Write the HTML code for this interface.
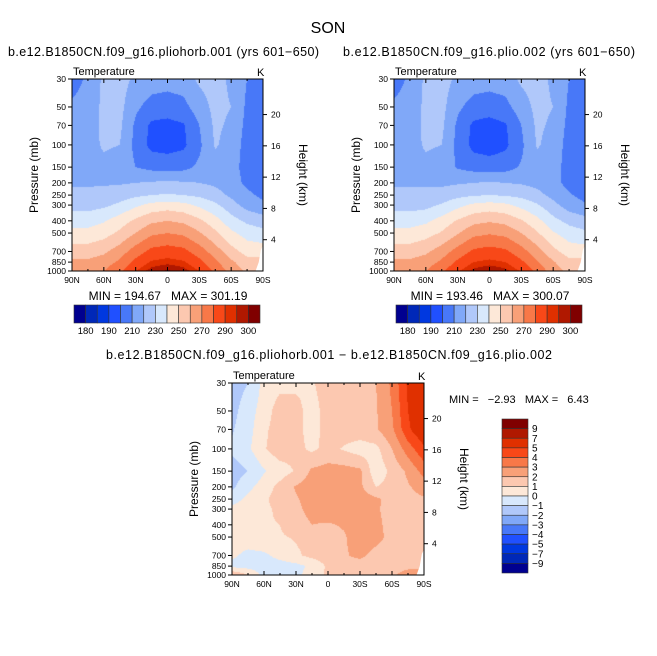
<!DOCTYPE html>
<html><head><meta charset="utf-8">
<style>
body{margin:0;background:#fff;width:657px;height:656px;overflow:hidden;position:relative;font-family:"Liberation Sans",sans-serif;}
canvas{position:absolute;left:0;top:0;}
svg{position:absolute;left:0;top:0;}
text{font-family:"Liberation Sans",sans-serif;fill:#000;}
</style></head><body>
<canvas id="cv" width="657" height="656"></canvas>
<svg id="sv" width="657" height="656">
<text x="328" y="33" font-size="16" text-anchor="middle">SON</text>
<text x="8" y="56" font-size="12.5" textLength="311">b.e12.B1850CN.f09_g16.pliohorb.001 (yrs 601−650)</text>
<text x="343" y="56" font-size="12.5" textLength="292">b.e12.B1850CN.f09_g16.plio.002 (yrs 601−650)</text>
<text x="106" y="359" font-size="12.5" textLength="446">b.e12.B1850CN.f09_g16.pliohorb.001 − b.e12.B1850CN.f09_g16.plio.002</text>
<text x="168" y="300" font-size="12" text-anchor="middle" xml:space="preserve">MIN = 194.67   MAX = 301.19</text>
<text x="490" y="300" font-size="12" text-anchor="middle" xml:space="preserve">MIN = 193.46   MAX = 300.07</text>
<text x="449" y="403" font-size="11" xml:space="preserve">MIN =   −2.93   MAX =   6.43</text>
</svg>
<script>
const pLevels=[30,50,70,100,150,200,250,300,400,500,700,850,1000];
const lats=[90,75,60,45,30,15,0,-15,-30,-45,-60,-75,-90];
const tLevels=[180,185,190,200,210,220,230,240,250,260,270,280,290,295,300];
const tLabels=["180","190","210","230","250","270","290","300"];
const dLevels=[-9,-7,-5,-4,-3,-2,-1,0,1,2,3,4,5,7,9];
const dLabels=["-9","-7","-5","-4","-3","-2","-1","0","1","2","3","4","5","7","9"];
const colors=["#000090","#0028b8","#0038e0","#2050ff","#4878f8","#80a8f8","#b0c8fa","#d8e8fc","#fde8d8","#fcc8b0","#f8a078","#f87848","#f84818","#e03000","#b01800","#800000"];
const tempA=[
[205,212,222,224,218,215,214,215,222,224,218,210,206],
[212,215,222,223,212,206,205,207,215,223,220,208,204],
[215,216,222,222,208,198,197,199,210,222,218,207,203],
[216,217,221,220,207,197,196,198,208,221,216,206,203],
[217,217,218,216,210,207,206,207,212,216,214,206,204],
[219,219,219,219,220,221,222,221,220,218,214,208,205],
[222,222,223,225,228,230,231,230,228,224,218,212,208],
[226,226,228,232,238,243,245,243,238,232,224,216,212],
[236,236,239,245,252,258,260,258,252,244,234,228,225],
[243,243,246,252,260,268,270,268,261,252,242,236,233],
[255,255,258,265,275,283,285,283,275,265,254,246,null],
[262,262,265,272,283,291,293,291,283,272,262,254,null],
[265,266,270,278,290,298,301,298,290,278,266,258,null]];
const tempB=[
[205,212,222,224,218,215,214,215,222,224,218,210,206],
[212,215,222,223,212,206,205,207,215,223,220,208,204],
[215,216,222,222,208,198,196,199,210,222,218,207,203],
[216,217,221,220,207,197,195,198,208,221,216,206,203],
[217,217,218,216,209,206,205,206,211,216,214,206,204],
[219,219,219,218,219,220,221,220,219,217,213,207,204],
[222,222,222,224,227,229,230,229,227,223,217,211,207],
[226,226,227,231,237,242,244,242,237,231,223,215,211],
[236,236,238,244,251,257,259,257,251,243,233,227,224],
[243,243,246,251,259,267,269,267,260,251,241,235,232],
[255,255,258,265,274,282,284,282,274,264,253,245,null],
[262,262,265,272,282,290,292,290,282,271,261,253,null],
[265,266,270,278,289,297,300,297,289,277,265,257,null]];
const diff=[
[-1.5,-1.0,0.3,0.7,0.8,0.9,1.5,1.5,1.6,2.0,3.2,5.2,6.0],
[-1.3,-0.5,0.5,1.5,1.3,0.6,1.4,1.5,1.6,1.9,3.0,5.0,6.2],
[-1.1,-0.4,0.8,1.5,1.3,0.6,1.4,1.5,1.6,1.9,2.8,4.8,6.0],
[-0.8,-0.2,0.9,1.6,1.3,0.8,1.3,0.9,0.5,0.7,2.0,3.5,4.8],
[-1.5,-1.0,-0.1,0.5,1.1,2.2,2.4,2.4,2.2,0.3,1.3,2.2,3.4],
[-1.2,-0.3,0.5,1.3,2.1,2.5,2.6,2.4,2.2,1.0,1.3,1.9,2.4],
[-0.5,0.3,0.8,1.5,1.9,2.4,2.6,2.6,2.5,2.2,1.6,1.7,1.9],
[0.3,0.5,0.8,1.2,1.8,2.3,2.6,2.6,2.5,2.1,1.7,1.6,1.6],
[0.4,0.6,0.9,1.0,1.6,2.0,1.9,2.1,2.5,2.2,1.7,1.6,1.6],
[0.5,0.6,0.8,0.9,1.1,1.5,1.6,1.9,2.5,2.3,1.7,1.6,1.6],
[0.2,-0.3,-0.2,0.3,0.8,1.3,1.5,1.9,2.2,1.7,1.6,1.6,null],
[-0.3,-0.4,-0.4,-0.4,-0.3,0.2,1.2,1.7,1.6,1.5,1.6,1.7,null],
[2.0,1.0,-0.4,-0.4,-0.3,0.5,1.2,1.5,1.5,1.5,1.8,2.5,null]];
const pTicks=[30,50,70,100,150,200,250,300,400,500,700,850,1000];
const zTicks=[4,8,12,16,20];
const latTicks=[90,60,30,0,-30,-60,-90];
const latLabels=["90N","60N","30N","0","30S","60S","90S"];

const NS="http://www.w3.org/2000/svg";
const sv=document.getElementById('sv');
const ctx=document.getElementById('cv').getContext('2d');
function mk(tag,attrs,txt){const e=document.createElementNS(NS,tag);for(const k in attrs)e.setAttribute(k,attrs[k]);if(txt!==undefined)e.textContent=txt;sv.appendChild(e);return e;}
const L30=Math.log(30),L1000=Math.log(1000);
const lnL=pLevels.map(Math.log);
function colorIdx(v,lev){let i=0;while(i<lev.length&&v>=lev[i])i++;return i;}
function val(grid,j,i){let v=grid[j][i];let k=i;while(v==null&&k>0){k--;v=grid[j][k];}return v;}
function sample(grid,lat,lnp){
  const fx=(90-lat)/15;let i=Math.min(Math.floor(fx),11);const tx=fx-i;
  let j=0;while(j<11&&lnp>lnL[j+1])j++;
  const ty=(lnp-lnL[j])/(lnL[j+1]-lnL[j]);
  const a=val(grid,j,i),b=val(grid,j,i+1),c=val(grid,j+1,i),d=val(grid,j+1,i+1);
  return (a*(1-tx)+b*tx)*(1-ty)+(c*(1-tx)+d*tx)*ty;
}
function panel(x0,y0,w,h,grid,lev,name){
  const xs=lat=>x0+(90-lat)/180*w;
  const ys=p=>y0+(Math.log(p)-L30)/(L1000-L30)*h;
  for(let px=0;px<w;px++){for(let py=0;py<h;py++){
    const lat=90-(px+0.5)/w*180;const lnp=L30+(py+0.5)/h*(L1000-L30);
    const v=sample(grid,lat,lnp);
    ctx.fillStyle=colors[colorIdx(v,lev)];
    ctx.fillRect(x0+px,y0+py,1,1);
  }}
  const m=mk('polygon',{points:`${xs(-83)},${y0+h} ${xs(-86)},${ys(850)} ${xs(-88)},${ys(680)} ${xs(-90)},${ys(630)} ${xs(-90)},${y0+h}`,fill:'#fff'});
  
  const fr=mk('rect',{x:x0,y:y0,width:w,height:h,fill:'none',stroke:'#000','stroke-width':1});
  
  pTicks.forEach(p=>{const y=ys(p);
    mk('line',{x1:x0-4,x2:x0,y1:y,y2:y,stroke:'#000'});
    const t=mk('text',{x:x0-6,y:y+3,'font-size':8.5,'text-anchor':'end'},String(p));
    });
  zTicks.forEach(z=>{const y=ys(1000*Math.exp(-z/7));
    mk('line',{x1:x0+w,x2:x0+w+4,y1:y,y2:y,stroke:'#000'});
    const t=mk('text',{x:x0+w+8,y:y+3,'font-size':8.5},String(z));
    });
  latTicks.forEach((lt,k)=>{const x=xs(lt);
    mk('line',{x1:x,x2:x,y1:y0+h,y2:y0+h-4,stroke:'#000'});
    mk('line',{x1:x,x2:x,y1:y0,y2:y0+4,stroke:'#000'});
    const t=mk('text',{x:x,y:y0+h+12,'font-size':8.5,'text-anchor':'middle'},latLabels[k]);
    });
  for(let lt=75;lt>-90;lt-=15){if(lt%30!==0){const x=xs(lt);mk('line',{x1:x,x2:x,y1:y0+h,y2:y0+h-2,stroke:'#000'});mk('line',{x1:x,x2:x,y1:y0,y2:y0+2,stroke:'#000'});}}
  const tt=mk('text',{x:x0+1,y:y0-4,'font-size':11},'Temperature');
  
  const k=mk('text',{x:x0+w-6,y:y0-3,'font-size':11},'K');
  
  const yt=mk('text',{x:0,y:0,'font-size':12,'text-anchor':'middle',transform:`translate(${x0-34},${y0+h/2}) rotate(-90)`},'Pressure (mb)');
  
  const zt=mk('text',{x:0,y:0,'font-size':12,'text-anchor':'middle',fill:'#444',transform:`translate(${x0+w+36},${y0+h/2}) rotate(90)`},'Height (km)');
  
}
function hbar(x0,y0,w,h,name){
  const bw=w/16;
  colors.forEach((c,i)=>{const r=mk('rect',{x:x0+i*bw,y:y0,width:bw,height:h,fill:c,stroke:'#333','stroke-width':0.6});
    });
  tLabels.forEach((lb,k)=>{const bi=k<7?2*k:14;
    const t=mk('text',{x:x0+(bi+1)*bw,y:y0+h+11,'font-size':9.5,'text-anchor':'middle'},lb);
    });
}
function vbar(x0,y0,w,h,name){
  const bh=h/16;
  colors.slice().reverse().forEach((c,i)=>{const r=mk('rect',{x:x0,y:y0+i*bh,width:w,height:bh,fill:c,stroke:'#333','stroke-width':0.6});
    });
  dLabels.slice().reverse().forEach((lb,i)=>{
    const t=mk('text',{x:x0+w+4,y:y0+(i+1)*bh+3.5,'font-size':10},lb.replace('-','−'));
    });
}
panel(72,79,191,192,tempA,tLevels,'left-panel');
panel(394,79,191,192,tempB,tLevels,'right-panel');
panel(232,383,192,192,diff,dLevels,'diff-panel');
hbar(74,305,186,18,'left-colorbar');
hbar(396,305,186,18,'right-colorbar');
vbar(502,419,26,154,'diff-colorbar');
</script>
</body></html>
